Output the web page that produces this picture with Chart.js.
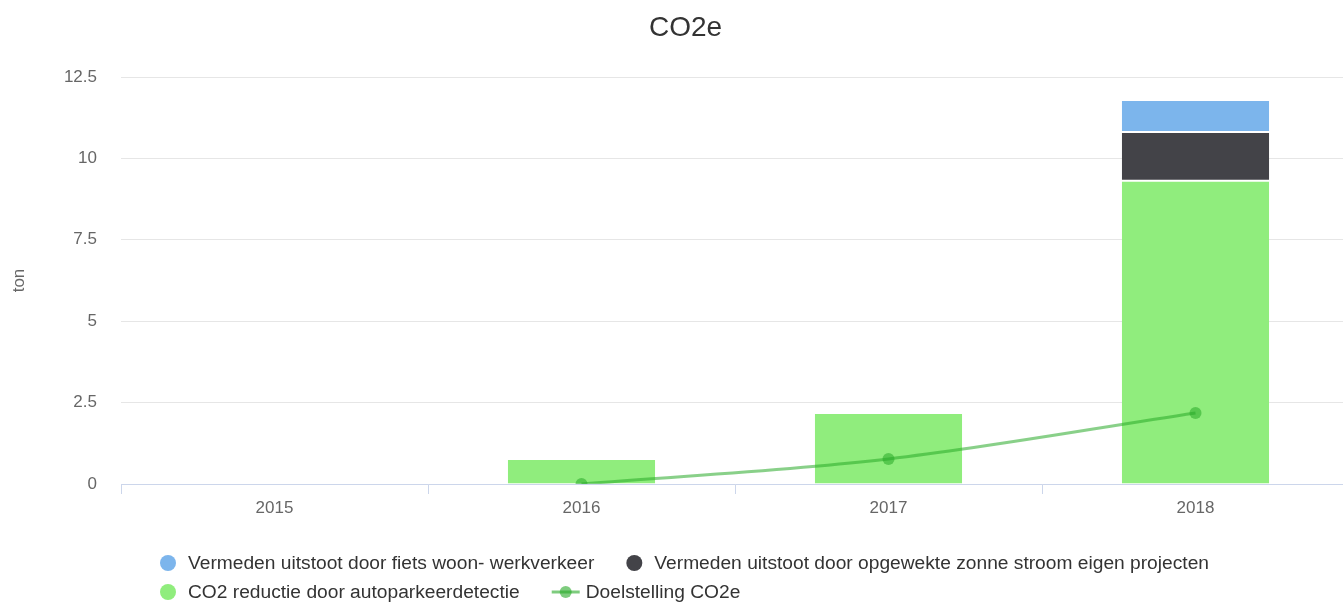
<!DOCTYPE html>
<html>
<head>
<meta charset="utf-8">
<script src="https://cdn.jsdelivr.net/npm/chart.js@4/dist/chart.umd.min.js"></script>
<style>
  html, body { margin: 0; padding: 0; background: #fff; overflow: hidden; }
  #co2Chart { display: block; }
</style>
</head>
<body>
<canvas id="co2Chart" width="1371" height="603"></canvas>
<script>
// categories and series values (ton)
const years = ['2015', '2016', '2017', '2018'];
const fietsWoonWerk = [0, 0, 0, 0.95];
const zonneStroom = [0, 0, 0, 1.5];
const autoParkeer = [0, 0.77, 2.18, 9.31];
const doelstelling = [null, 0.0, 0.77, 2.18];

const yTicks = [0, 2.5, 5, 7.5, 10, 12.5];

const fontFamily = '"Liberation Sans", Arial, Helvetica, sans-serif';

// legend order as shown under the chart
const legendItems = [
  { text: 'Vermeden uitstoot door fiets woon- werkverkeer', color: '#7cb5ec', type: 'dot' },
  { text: 'Vermeden uitstoot door opgewekte zonne stroom eigen projecten', color: '#434348', type: 'dot' },
  { text: 'CO2 reductie door autoparkeerdetectie', color: '#90ed7d', type: 'dot' },
  { text: 'Doelstelling CO2e', color: 'rgba(40,170,40,0.6)', type: 'line' }
];

// legend drawn like the original (rows left aligned to the first row)
const bottomLegend = {
  id: 'bottomLegend',
  afterDraw(chart) {
    const ctx = chart.ctx;
    ctx.save();
    ctx.font = '19.2px ' + fontFamily;
    ctx.textBaseline = 'middle';
    const rows = [[0, 1], [2, 3]];
    const rowY = [563, 592];
    const startX = 160;
    rows.forEach((row, r) => {
      let x = startX;
      row.forEach(i => {
        const item = legendItems[i];
        const y = rowY[r];
        if (item.type === 'dot') {
          ctx.fillStyle = item.color;
          ctx.beginPath();
          ctx.arc(x + 8, y, 8, 0, Math.PI * 2);
          ctx.fill();
          x += 28;
        } else {
          ctx.strokeStyle = item.color;
          ctx.lineWidth = 3;
          ctx.beginPath();
          ctx.moveTo(x, y);
          ctx.lineTo(x + 28, y);
          ctx.stroke();
          ctx.fillStyle = item.color;
          ctx.beginPath();
          ctx.arc(x + 14, y, 6, 0, Math.PI * 2);
          ctx.fill();
          x += 34;
        }
        ctx.fillStyle = '#333333';
        ctx.fillText(item.text, x, y + 1);
        x += ctx.measureText(item.text).width + 32;
      });
    });
    ctx.restore();
  }
};

const ctx = document.getElementById('co2Chart').getContext('2d');
new Chart(ctx, {
  data: {
    labels: years,
    datasets: [
      {
        type: 'line',
        label: 'Doelstelling CO2e',
        data: doelstelling,
        borderColor: 'rgba(40,170,40,0.55)',
        backgroundColor: 'rgba(40,170,40,0.55)',
        borderWidth: 3,
        pointRadius: 6,
        pointHoverRadius: 6,
        pointBorderWidth: 0,
        cubicInterpolationMode: 'monotone',
        fill: false,
        order: 0
      },
      {
        type: 'bar',
        label: 'CO2 reductie door autoparkeerdetectie',
        data: autoParkeer,
        backgroundColor: '#90ed7d',
        borderColor: '#ffffff',
        borderWidth: { top: 1, left: 0, right: 0, bottom: 0 },
        stack: 'co2',
        order: 1
      },
      {
        type: 'bar',
        label: 'Vermeden uitstoot door opgewekte zonne stroom eigen projecten',
        data: zonneStroom,
        backgroundColor: '#434348',
        borderColor: '#ffffff',
        borderWidth: { top: 1, left: 0, right: 0, bottom: 1 },
        stack: 'co2',
        order: 1
      },
      {
        type: 'bar',
        label: 'Vermeden uitstoot door fiets woon- werkverkeer',
        data: fietsWoonWerk,
        backgroundColor: '#7cb5ec',
        borderColor: '#ffffff',
        borderWidth: { top: 0, left: 0, right: 0, bottom: 1 },
        stack: 'co2',
        order: 1
      }
    ]
  },
  options: {
    responsive: false,
    animation: false,
    layout: { padding: { left: 0, right: 0, top: 0, bottom: 79 } },
    datasets: {
      bar: { categoryPercentage: 1.0, barPercentage: 0.48, borderSkipped: false }
    },
    plugins: {
      legend: { display: false },
      tooltip: { enabled: false },
      title: {
        display: true,
        text: 'CO2e',
        color: '#333333',
        font: { family: fontFamily, size: 28, weight: 'normal', lineHeight: 1.2 },
        padding: { top: 11, bottom: 32.4 }
      }
    },
    scales: {
      x: {
        stacked: true,
        afterFit(axis) { axis.height = 40; },
        grid: {
          offset: true,
          drawOnChartArea: false,
          drawTicks: true,
          tickLength: 10,
          color: '#ccd6eb'
        },
        border: { display: true, color: '#ccd6eb' },
        ticks: {
          color: '#666666',
          font: { family: fontFamily, size: 17 },
          padding: 4
        }
      },
      y: {
        stacked: true,
        min: 0,
        max: 12.5,
        afterFit(axis) { axis.width = 121; },
        afterBuildTicks(axis) {
          axis.ticks = yTicks.map(v => ({ value: v }));
        },
        grid: { color: '#e6e6e6', drawTicks: false },
        border: { display: false },
        ticks: {
          color: '#666666',
          font: { family: fontFamily, size: 17 },
          padding: 24
        },
        title: {
          display: true,
          text: 'ton',
          color: '#666666',
          font: { family: fontFamily, size: 17 },
          padding: { top: 9, bottom: 0 }
        }
      },
      // empty right spacer so the plot ends where the original does
      spacer: {
        type: 'linear',
        position: 'right',
        min: 0,
        max: 1,
        afterFit(axis) { axis.width = 22; },
        grid: { display: false },
        border: { display: false },
        ticks: { display: false }
      }
    }
  },
  plugins: [bottomLegend]
});
</script>
</body>
</html>
